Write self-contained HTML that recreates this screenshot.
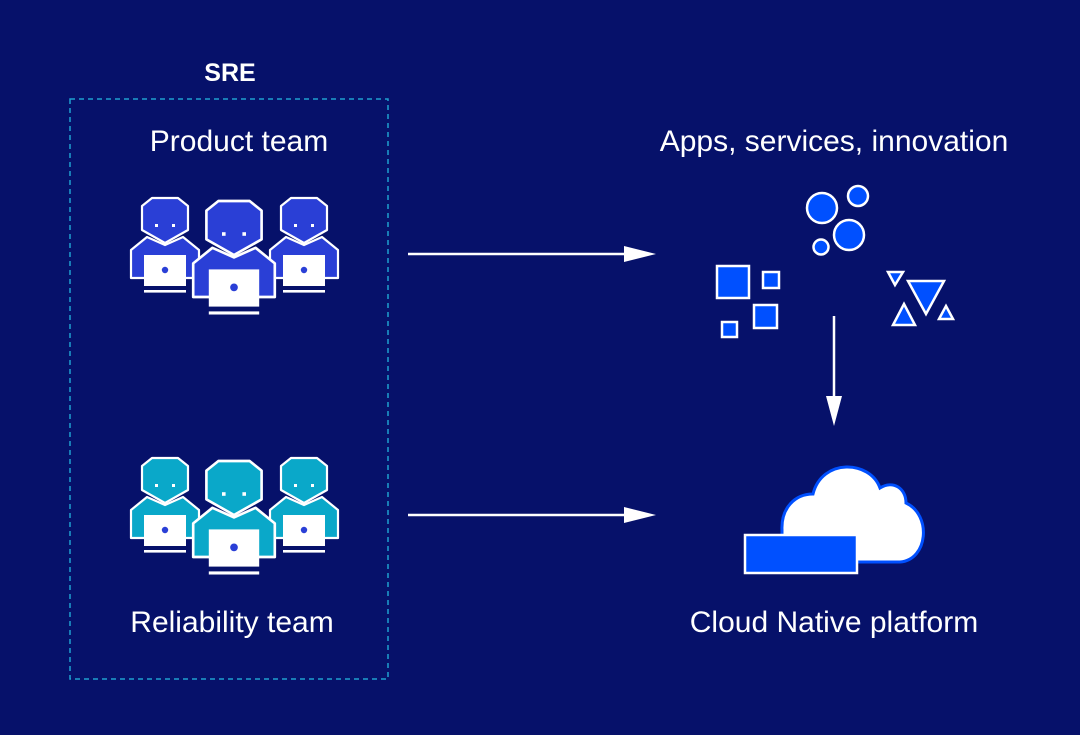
<!DOCTYPE html>
<html><head><meta charset="utf-8"><style>
html,body{margin:0;padding:0;background:#06116a;}
svg{display:block}
text{font-family:"Liberation Sans","DejaVu Sans",sans-serif;fill:#fff}
</style></head><body>
<svg width="1080" height="735" viewBox="0 0 1080 735" xmlns="http://www.w3.org/2000/svg">
<defs>
<g id="p">
  <polygon points="-34,52 -18,39 0,47 18,39 34,52 34,80 -34,80" stroke="#fff" stroke-width="2.2" stroke-linejoin="round"/>
  <polygon points="-13,0 13,0 23,8 23,32 0,45 -23,32 -23,8" stroke="#fff" stroke-width="2.2" stroke-linejoin="round"/>
  <rect x="-10" y="26" width="3" height="3" fill="#fff"/>
  <rect x="7" y="26" width="3" height="3" fill="#fff"/>
  <rect x="-21" y="57" width="42" height="31" fill="#fff"/>
  <circle cx="0" cy="72" r="3.2" fill="#2a3fd6"/>
  <rect x="-21" y="92" width="42" height="2.6" fill="#fff"/>
</g>
</defs>
<rect x="0" y="0" width="1080" height="735" fill="#06116a"/>
<rect x="70" y="99" width="318" height="580" fill="none" stroke="#1fa0d0" stroke-width="1.5" stroke-dasharray="5,4"/>
<text x="230" y="81" font-size="25" font-weight="bold" text-anchor="middle">SRE</text>
<text x="239" y="151" font-size="30" text-anchor="middle">Product team</text>
<text x="834" y="151" font-size="30" text-anchor="middle">Apps, services, innovation</text>
<text x="232" y="632" font-size="30" text-anchor="middle">Reliability team</text>
<text x="834" y="632" font-size="30" text-anchor="middle">Cloud Native platform</text>

<g fill="#2a3fd6">
  <use href="#p" transform="translate(165,198)"/>
  <use href="#p" transform="translate(304,198)"/>
  <use href="#p" transform="translate(234,201) scale(1.2)"/>
</g>
<g fill="#0aa8c9">
  <use href="#p" transform="translate(165,458)"/>
  <use href="#p" transform="translate(304,458)"/>
  <use href="#p" transform="translate(234,461) scale(1.2)"/>
</g>

<line x1="408" y1="254" x2="640" y2="254" stroke="#fff" stroke-width="2.5"/>
<path d="M624,246 L656,254 L624,262 Z" fill="#fff"/>
<line x1="408" y1="515" x2="640" y2="515" stroke="#fff" stroke-width="2.5"/>
<path d="M624,507 L656,515 L624,523 Z" fill="#fff"/>
<line x1="834" y1="316" x2="834" y2="405" stroke="#fff" stroke-width="2.5"/>
<path d="M826,396 L834,426 L842,396 Z" fill="#fff"/>

<g fill="#0050ff" stroke="#fff" stroke-width="2.5">
  <circle cx="822" cy="208" r="15"/>
  <circle cx="858" cy="196" r="10"/>
  <circle cx="849" cy="235" r="15"/>
  <circle cx="821" cy="247" r="7.5"/>
  <rect x="717" y="266" width="32" height="32"/>
  <rect x="763" y="272" width="16" height="16"/>
  <rect x="754" y="305" width="23" height="23"/>
  <rect x="722" y="322" width="15" height="15"/>
  <polygon points="888,272 903,272 895,285"/>
  <polygon points="908,281 944,281 926,314"/>
  <polygon points="893,325 915,325 904,304"/>
  <polygon points="939,319 953,319 946,306"/>
</g>

<path d="M800,562 L900,562 C928,560 932,515 906,503 C906,488 893,480 880,488 C870,460 822,458 813,494 C795,494 781,508 782,530 L782,562 Z" fill="#fff" stroke="#0050ff" stroke-width="3"/>
<rect x="745" y="535" width="112" height="38" fill="#0050ff" stroke="#fff" stroke-width="2.5"/>
</svg>
</body></html>
